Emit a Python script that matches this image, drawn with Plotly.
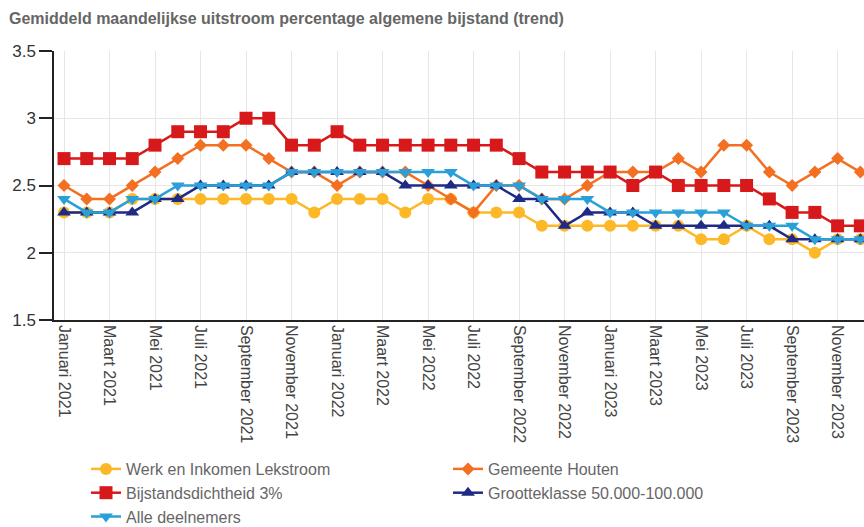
import plotly.graph_objects as go

month_names = ["Januari", "Februari", "Maart", "April", "Mei", "Juni", "Juli",
               "Augustus", "September", "Oktober", "November", "December"]
years = [2021, 2022, 2023]
months = [f"{m} {y}" for y in years for m in month_names]
tick_labels = months[::2]

werk_en_inkomen = [2.3, 2.3, 2.3, 2.4, 2.4, 2.4, 2.4, 2.4, 2.4, 2.4, 2.4, 2.3,
                   2.4, 2.4, 2.4, 2.3, 2.4, 2.4, 2.3, 2.3, 2.3, 2.2, 2.2, 2.2,
                   2.2, 2.2, 2.2, 2.2, 2.1, 2.1, 2.2, 2.1, 2.1, 2.0, 2.1, 2.1]
gemeente_houten = [2.5, 2.4, 2.4, 2.5, 2.6, 2.7, 2.8, 2.8, 2.8, 2.7, 2.6, 2.6,
                   2.5, 2.6, 2.6, 2.6, 2.5, 2.4, 2.3, 2.5, 2.5, 2.4, 2.4, 2.5,
                   2.6, 2.6, 2.6, 2.7, 2.6, 2.8, 2.8, 2.6, 2.5, 2.6, 2.7, 2.6]
bijstandsdichtheid = [2.7, 2.7, 2.7, 2.7, 2.8, 2.9, 2.9, 2.9, 3.0, 3.0, 2.8, 2.8,
                      2.9, 2.8, 2.8, 2.8, 2.8, 2.8, 2.8, 2.8, 2.7, 2.6, 2.6, 2.6,
                      2.6, 2.5, 2.6, 2.5, 2.5, 2.5, 2.5, 2.4, 2.3, 2.3, 2.2, 2.2]
grootteklasse = [2.3, 2.3, 2.3, 2.3, 2.4, 2.4, 2.5, 2.5, 2.5, 2.5, 2.6, 2.6,
                 2.6, 2.6, 2.6, 2.5, 2.5, 2.5, 2.5, 2.5, 2.4, 2.4, 2.2, 2.3,
                 2.3, 2.3, 2.2, 2.2, 2.2, 2.2, 2.2, 2.2, 2.1, 2.1, 2.1, 2.1]
alle_deelnemers = [2.4, 2.3, 2.3, 2.4, 2.4, 2.5, 2.5, 2.5, 2.5, 2.5, 2.6, 2.6,
                   2.6, 2.6, 2.6, 2.6, 2.6, 2.6, 2.5, 2.5, 2.5, 2.4, 2.4, 2.4,
                   2.3, 2.3, 2.3, 2.3, 2.3, 2.3, 2.2, 2.2, 2.2, 2.1, 2.1, 2.1]

series = [
    ("Werk en Inkomen Lekstroom", werk_en_inkomen, "#FDB827", "circle", 12),
    ("Gemeente Houten", gemeente_houten, "#F36F21", "diamond", 10),
    ("Bijstandsdichtheid 3%", bijstandsdichtheid, "#D7191C", "square", 13),
    ("Grootteklasse 50.000-100.000", grootteklasse, "#1F2A85", "triangle-up", 12),
    ("Alle deelnemers", alle_deelnemers, "#2A9FD8", "triangle-down", 12),
]

fig = go.Figure()
for name, vals, color, symbol, size in series:
    fig.add_trace(go.Scatter(
        x=months, y=vals, name=name, mode="lines+markers",
        line=dict(color=color, width=2.5),
        marker=dict(color=color, symbol=symbol, size=size, line=dict(width=0)),
    ))

fig.update_layout(
    width=864, height=527,
    margin=dict(l=54, r=0, t=51, b=207),
    paper_bgcolor="white", plot_bgcolor="white",
    font=dict(family="Liberation Sans, Arial, sans-serif", color="#555"),
    title=dict(text="<b>Gemiddeld maandelijkse uitstroom percentage algemene bijstand (trend)</b>",
               x=9 / 864, xanchor="left", y=1 - 18 / 527, yanchor="middle",
               font=dict(size=16, color="#666")),
    showlegend=True,
    legend=dict(orientation="h", xref="container", yref="container",
                x=86 / 864, xanchor="left", y=1 - 452 / 527, yanchor="top",
                font=dict(size=16, color="#666"),
                entrywidth=317, entrywidthmode="pixels",
                traceorder="normal"),
)
fig.update_xaxes(
    type="category", categoryorder="array", categoryarray=months,
    range=[-0.44, 35.16],
    tickmode="array", tickvals=tick_labels, ticktext=tick_labels,
    tickangle=90, tickfont=dict(size=16, color="#444"),
    showgrid=True, gridcolor="#e6e6e6", gridwidth=1,
    showline=True, linecolor="#222", linewidth=1.5,
    ticks="", zeroline=False,
)
fig.update_yaxes(
    range=[1.5, 3.5], tickmode="array", tickvals=[1.5, 2, 2.5, 3, 3.5],
    ticktext=["1.5", "2", "2.5", "3", "3.5"],
    tickfont=dict(size=17, color="#333"),
    showgrid=True, gridcolor="#e6e6e6", gridwidth=1,
    showline=True, linecolor="#222", linewidth=1.5,
    ticks="outside", ticklen=13, tickcolor="#222", tickwidth=1.5,
    zeroline=False,
)

fig.write_html("out.html", config={"displayModeBar": False},
               post_script="document.body.style.margin='0';")
